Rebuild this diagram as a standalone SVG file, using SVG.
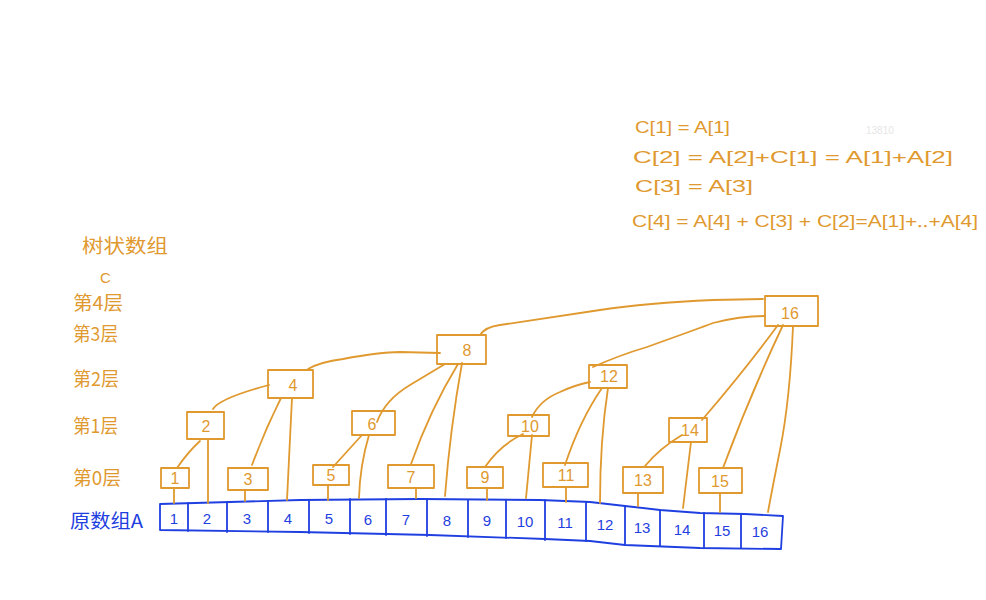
<svg xmlns="http://www.w3.org/2000/svg" width="986" height="600" viewBox="0 0 986 600">
<style>
.o{fill:none;stroke:#E0992F;stroke-width:1.8;stroke-linecap:round;stroke-linejoin:round}
.b{fill:none;stroke:#1F3FE0;stroke-width:1.8;stroke-linecap:round;stroke-linejoin:round}
.ot{fill:#E0992F;font-family:"Liberation Sans","Noto Sans CJK SC",sans-serif;font-size:16px;text-anchor:middle}
.bt{fill:#1F3FE0;font-family:"Liberation Sans","Noto Sans CJK SC",sans-serif;font-size:15px;text-anchor:middle}
.lab{fill:#E0992F;font-family:"Noto Sans CJK SC",sans-serif;font-size:19px}
.f{fill:#E0992F;font-family:"Liberation Sans",sans-serif;font-size:17px}
</style>
<rect width="986" height="600" fill="#ffffff"/>
<text x="866" y="134" fill="#e6e6e6" font-family="Liberation Sans,sans-serif" font-size="10">13810</text>
<g id="formulas">
<text class="f" x="635" y="133" textLength="95" lengthAdjust="spacingAndGlyphs">C[1] = A[1]</text>
<text class="f" x="633" y="163" textLength="320" lengthAdjust="spacingAndGlyphs">C[2] =  A[2]+C[1]  =  A[1]+A[2]</text>
<text class="f" x="635" y="192" textLength="118" lengthAdjust="spacingAndGlyphs">C[3]  = A[3]</text>
<text class="f" x="632" y="227" textLength="346" lengthAdjust="spacingAndGlyphs">C[4] =  A[4] + C[3]  + C[2]=A[1]+‥+A[4]</text>
</g>
<g id="labels">
<text class="lab" x="82" y="253" font-size="20" textLength="86" lengthAdjust="spacingAndGlyphs">树状数组</text>
<text x="100" y="283" fill="#E0992F" font-family="Liberation Sans,sans-serif" font-size="15">C</text>
<text class="lab" x="73" y="310" textLength="50" lengthAdjust="spacingAndGlyphs">第4层</text>
<text class="lab" x="73" y="341" textLength="45" lengthAdjust="spacingAndGlyphs">第3层</text>
<text class="lab" x="73" y="386" textLength="46" lengthAdjust="spacingAndGlyphs">第2层</text>
<text class="lab" x="73" y="433" textLength="45" lengthAdjust="spacingAndGlyphs">第1层</text>
<text class="lab" x="73" y="485" textLength="48" lengthAdjust="spacingAndGlyphs">第0层</text>
<text x="70" y="528" fill="#1F3FE0" font-family="Noto Sans CJK SC,sans-serif" font-size="19" textLength="73" lengthAdjust="spacingAndGlyphs">原数组A</text>
</g>
<g id="array">
<path class="b" d="M160,504 L300,500 L420,499 L540,500 L590,502 L625,506 L660,510 L700,513 L745,514 L783,516 L781,549 L700,548 L625,545 L590,541 L545,539 L430,535 L300,532 L160,530 Z"/>
<path class="b" d="M188,503 V531 M227,502 V532 M268,501 V532 M309,500 V533 M350,499 V534 M386,499 V535 M427,499 V536 M468,500 V537 M506,500 V538 M545,500 V540 M586,502 V541 M625,506 V545 M660,510 V546 M704,513 V548 M741,514 V548"/>
<text class="bt" x="174" y="524">1</text>
<text class="bt" x="207" y="524">2</text>
<text class="bt" x="247" y="524">3</text>
<text class="bt" x="288" y="524">4</text>
<text class="bt" x="329" y="524">5</text>
<text class="bt" x="368" y="525">6</text>
<text class="bt" x="406" y="525">7</text>
<text class="bt" x="447" y="526">8</text>
<text class="bt" x="487" y="526">9</text>
<text class="bt" x="525" y="527">10</text>
<text class="bt" x="565" y="528">11</text>
<text class="bt" x="605" y="530">12</text>
<text class="bt" x="642" y="533">13</text>
<text class="bt" x="682" y="535">14</text>
<text class="bt" x="722" y="536">15</text>
<text class="bt" x="760" y="537">16</text>
</g>
<g id="connectors">
<path class="o" d="M174,488 V503 M245,490 V501 M328,485 V500 M416,488 V498 M487,488 V500 M566,487 V502 M638,493 V506 M720,493 V512"/>
<path class="o" d="M177,468 Q188,452 200,441"/>
<path class="o" d="M208,440 V503"/>
<path class="o" d="M213,409 Q220,398 269,385"/>
<path class="o" d="M252,465 Q265,430 281,398"/>
<path class="o" d="M292,398 L287,500"/>
<path class="o" d="M308,369 Q320,362 343,359 Q380,352 400,352 L440,353"/>
<path class="o" d="M333,467 L362,435"/>
<path class="o" d="M369,435 Q360,465 359,498"/>
<path class="o" d="M377,422 Q385,400 410,385 L445,364"/>
<path class="o" d="M411,464 Q430,410 458,364"/>
<path class="o" d="M462,363 Q450,430 445,496"/>
<path class="o" d="M480,335 Q485,327 500,325 Q547,318 600,310 Q647,303 713,300 L763,299"/>
<path class="o" d="M593,367 Q620,355 647,347 Q700,328 713,323 Q740,316 765,316"/>
<path class="o" d="M532,417 Q540,400 560,392 Q575,385 590,382"/>
<path class="o" d="M485,467 Q500,445 523,434"/>
<path class="o" d="M532,435 L526,498"/>
<path class="o" d="M565,465 Q580,420 602,388"/>
<path class="o" d="M608,388 Q600,440 600,503"/>
<path class="o" d="M645,466 Q660,448 682,435"/>
<path class="o" d="M691,442 L683,508"/>
<path class="o" d="M702,420 Q745,370 778,325"/>
<path class="o" d="M723,468 Q750,395 783,325"/>
<path class="o" d="M793,326 Q790,400 780,450 Q772,490 768,512"/>
</g>
<g id="node1"><rect class="o" x="161" y="468" width="28" height="20"/><text class="ot" x="175" y="484" font-size="13">1</text></g>
<g id="node3"><rect class="o" x="228" y="468" width="40" height="22"/><text class="ot" x="248" y="485">3</text></g>
<g id="node5"><rect class="o" x="313" y="465" width="36" height="20"/><text class="ot" x="331" y="481">5</text></g>
<g id="node7"><rect class="o" x="388" y="465" width="46" height="23"/><text class="ot" x="411" y="483">7</text></g>
<g id="node9"><rect class="o" x="467" y="467" width="36" height="21"/><text class="ot" x="485" y="483">9</text></g>
<g id="node11"><rect class="o" x="543" y="463" width="45" height="24"/><text class="ot" x="566" y="481">11</text></g>
<g id="node13"><rect class="o" x="623" y="467" width="40" height="26"/><text class="ot" x="643" y="486">13</text></g>
<g id="node15"><rect class="o" x="699" y="468" width="43" height="25"/><text class="ot" x="720" y="487">15</text></g>
<g id="node2"><rect class="o" x="187" y="412" width="37" height="27"/><text class="ot" x="206" y="432">2</text></g>
<g id="node6"><rect class="o" x="352" y="411" width="43" height="24"/><text class="ot" x="372" y="430">6</text></g>
<g id="node10"><rect class="o" x="508" y="415" width="41" height="21"/><text class="ot" x="530" y="432">10</text></g>
<g id="node14"><rect class="o" x="669" y="418" width="38" height="24"/><text class="ot" x="690" y="436">14</text></g>
<g id="node4"><rect class="o" x="268" y="370" width="45" height="28"/><text class="ot" x="293" y="391" font-size="18">4</text></g>
<g id="node12"><rect class="o" x="589" y="365" width="38" height="23"/><text class="ot" x="609" y="382" font-size="14">12</text></g>
<g id="node8"><rect class="o" x="437" y="335" width="49" height="29"/><text class="ot" x="467" y="356" font-size="19">8</text></g>
<g id="node16"><rect class="o" x="765" y="296" width="53" height="30"/><text class="ot" x="790" y="319" font-size="19">16</text></g>
</svg>
